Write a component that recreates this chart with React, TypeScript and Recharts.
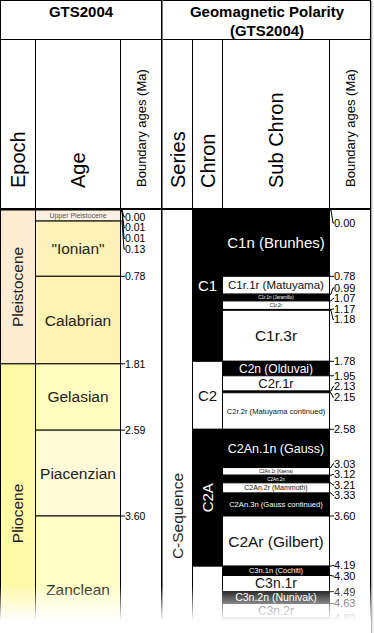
import React from "react";
import { ComposedChart, XAxis, YAxis, ReferenceArea, ReferenceLine, Scatter, Line } from "recharts";

const FONT = "'Liberation Sans', Arial, Helvetica, sans-serif";

// ---- GTS2004 stratigraphy, ages in Ma ----
const epochs = [
  { name: "Pleistocene", top: 0, base: 1.81 },
  { name: "Pliocene", top: 1.81, base: 5.33 },
];

const ages = [
  { name: "Upper Pleistocene", top: 0, base: 0.13 },
  { name: "\"Ionian\"", top: 0.13, base: 0.78 },
  { name: "Calabrian", top: 0.78, base: 1.81 },
  { name: "Gelasian", top: 1.81, base: 2.59 },
  { name: "Piacenzian", top: 2.59, base: 3.6 },
  { name: "Zanclean", top: 3.6, base: 5.33 },
];

const ageBoundaries = [0.0, 0.01, 0.01, 0.13, 0.78, 1.81, 2.59, 3.6];

const series = [{ name: "C-Sequence", top: 0, base: 7.2 }];

const chrons = [
  { name: "C1", top: 0, base: 1.78, polarity: "n" },
  { name: "C2", top: 1.78, base: 2.58, polarity: "r" },
  { name: "C2A", top: 2.58, base: 4.19, polarity: "n" },
  { name: "C3", top: 4.19, base: 6.03, polarity: "r" },
];

const subChrons = [
  { name: "C1n (Brunhes)", top: 0, base: 0.78, polarity: "n" },
  { name: "C1r.1r (Matuyama)", top: 0.78, base: 0.99, polarity: "r" },
  { name: "C1r.1n (Jaramillo)", top: 0.99, base: 1.07, polarity: "n" },
  { name: "C1r.2r", top: 1.07, base: 1.17, polarity: "r" },
  { name: "C1r.2n", top: 1.17, base: 1.18, polarity: "n" },
  { name: "C1r.3r", top: 1.18, base: 1.78, polarity: "r" },
  { name: "C2n (Olduvai)", top: 1.78, base: 1.95, polarity: "n" },
  { name: "C2r.1r", top: 1.95, base: 2.13, polarity: "r" },
  { name: "C2r.1n", top: 2.13, base: 2.15, polarity: "n" },
  { name: "C2r.2r (Matuyama continued)", top: 2.15, base: 2.58, polarity: "r" },
  { name: "C2An.1n (Gauss)", top: 2.58, base: 3.03, polarity: "n" },
  { name: "C2An.1r (Kaena)", top: 3.03, base: 3.12, polarity: "r" },
  { name: "C2An.2n", top: 3.12, base: 3.21, polarity: "n" },
  { name: "C2An.2r (Mammoth)", top: 3.21, base: 3.33, polarity: "r" },
  { name: "C2An.3n (Gauss continued)", top: 3.33, base: 3.6, polarity: "n" },
  { name: "C2Ar (Gilbert)", top: 3.6, base: 4.19, polarity: "r" },
  { name: "C3n.1n (Cochiti)", top: 4.19, base: 4.3, polarity: "n" },
  { name: "C3n.1r", top: 4.3, base: 4.49, polarity: "r" },
  { name: "C3n.2n (Nunivak)", top: 4.49, base: 4.63, polarity: "n" },
  { name: "C3n.2r", top: 4.63, base: 4.8, polarity: "r" },
  { name: "C3n.3n (Sidufjall)", top: 4.8, base: 4.9, polarity: "n" },
];

const polarityBoundaries = [
  0.0, 0.78, 0.99, 1.07, 1.17, 1.18, 1.78, 1.95, 2.13, 2.15, 2.58,
  3.03, 3.12, 3.21, 3.33, 3.6, 4.19, 4.3, 4.49, 4.63, 4.8,
];

// ---- styles / layout ----
const FILL: Record<string, string> = {
  Pleistocene: "#FDECD2",
  Pliocene: "#FFF9A8",
  "Upper Pleistocene": "#FCEFE3",
  "\"Ionian\"": "#FFF2B8",
  Calabrian: "#FFF2B3",
  Gelasian: "#FFFDC0",
  Piacenzian: "#FFFAD8",
  Zanclean: "#FFFEC6",
};

// label font sizes; 0 = no label drawn (cell too thin or below the fade)
const SUB_FONT: Record<string, number> = {
  "C1n (Brunhes)": 15,
  "C1r.1r (Matuyama)": 11.5,
  "C1r.1n (Jaramillo)": 4.5,
  "C1r.2r": 4.5,
  "C1r.3r": 15.5,
  "C2n (Olduvai)": 12,
  "C2r.1r": 13,
  "C2r.2r (Matuyama continued)": 7.6,
  "C2An.1n (Gauss)": 12.5,
  "C2An.1r (Kaena)": 4.5,
  "C2An.2n": 4.5,
  "C2An.2r (Mammoth)": 7,
  "C2An.3n (Gauss continued)": 7.6,
  "C2Ar (Gilbert)": 15.5,
  "C3n.1n (Cochiti)": 7.5,
  "C3n.1r": 14,
  "C3n.2n (Nunivak)": 10.5,
  "C3n.2r": 12,
};
const CHRON_FONT: Record<string, number> = { C1: 15, C2: 15, C2A: 15 };

const COL = {
  epoch: [0.5, 35.5],
  age: [35.5, 120.5],
  series: [162.5, 192.5],
  chron: [192.5, 222.5],
  sub: [222.5, 329.5],
};
const AGE_EDGE = 120.5;
const SUB_EDGE = 329.5;
const W = 374;
const BODY_H = 423;
const Y_MAX = BODY_H / 85;

function spreadLabels(values: number[], gap: number, min: number) {
  const groups: { vals: number[]; start: number }[] = [];
  for (const v of values) {
    groups.push({ vals: [v], start: Math.max(min, v) });
    while (groups.length > 1) {
      const b = groups[groups.length - 1];
      const a = groups[groups.length - 2];
      if (a.start + a.vals.length * gap <= b.start) break;
      const vals = a.vals.concat(b.vals);
      const mean = vals.reduce((s, x) => s + x, 0) / vals.length;
      groups.splice(groups.length - 2, 2, {
        vals,
        start: Math.max(min, mean - ((vals.length - 1) / 2) * gap),
      });
    }
  }
  return groups.flatMap((g) => g.vals.map((_, i) => g.start + i * gap));
}

function buildTicks(values: number[], edge: number, gap: number, min: number) {
  const pos = spreadLabels(values, gap, min);
  const labels = values.map((v, i) => ({ x: edge + 4.5, y: pos[i], label: v.toFixed(2) }));
  const leaders: { x: number; y: number | null }[] = [];
  values.forEach((v, i) => {
    leaders.push({ x: edge, y: v }, { x: edge + 1.5, y: v }, { x: edge + 3.5, y: pos[i] }, { x: edge + 4.5, y: pos[i] });
    leaders.push({ x: edge + 4.5, y: null });
  });
  return { labels, leaders };
}

const leftTicks = buildTicks(ageBoundaries, AGE_EDGE, 0.126, 0.082);
const rightTicks = buildTicks(polarityBoundaries, SUB_EDGE, 0.124, 0.153);

type CellOpts = { fill: string; color: string; size: number; rotate?: boolean; stroke?: string };

const cellShape = (name: string, o: CellOpts) => (p: any) => {
  const { x, y, width, height } = p;
  const cx = x + width / 2;
  const cy = y + height / 2;
  return (
    <g>
      <rect x={x} y={y} width={width} height={height} fill={o.fill} stroke={o.stroke ?? "#000"} strokeWidth={1} />
      {o.size > 0 && (
        <text
          x={cx}
          y={cy}
          dy="0.35em"
          textAnchor="middle"
          fontSize={o.size}
          fill={o.color}
          fontFamily={FONT}
          transform={o.rotate ? `rotate(-90 ${cx} ${cy})` : undefined}
        >
          {name}
        </text>
      )}
    </g>
  );
};

const tickLabel = (size: number) => (p: any) => (
  <text x={p.cx} y={p.cy} dy="0.35em" fontSize={size} fill="#000" fontFamily={FONT}>
    {p.payload.label}
  </text>
);

function Header() {
  const vText = (x: number, label: string, size: number, y = 188) => (
    <text x={x} y={y} dy="0.35em" fontSize={size} fontFamily={FONT} fill="#000" transform={`rotate(-90 ${x} ${y})`}>
      {label}
    </text>
  );
  return (
    <svg width={W} height={210} style={{ display: "block" }}>
      <rect x={0} y={0} width={W} height={210} fill="#fff" />
      <g stroke="#000" strokeWidth={1}>
        <line x1={0} y1={0.5} x2={371} y2={0.5} />
        <line x1={0} y1={39.5} x2={371} y2={39.5} />
        <line x1={0.5} y1={0} x2={0.5} y2={210} />
        <line x1={35.5} y1={39.5} x2={35.5} y2={210} />
        <line x1={120.5} y1={39.5} x2={120.5} y2={210} />
        <line x1={161.5} y1={0} x2={161.5} y2={210} />
        <line x1={192.5} y1={39.5} x2={192.5} y2={210} />
        <line x1={222.5} y1={39.5} x2={222.5} y2={210} />
        <line x1={329.5} y1={39.5} x2={329.5} y2={210} />
        <line x1={370.5} y1={0} x2={370.5} y2={210} />
      </g>
      <line x1={162.5} y1={0} x2={162.5} y2={210} stroke="#777" strokeWidth={1} />
      <line x1={0} y1={209} x2={371} y2={209} stroke="#000" strokeWidth={2} />
      <g fontFamily={FONT} fontWeight="bold" fontSize={15} textAnchor="middle" fill="#000">
        <text x={81} y={17}>GTS2004</text>
        <text x={267} y={17}>Geomagnetic Polarity</text>
        <text x={267} y={36}>(GTS2004)</text>
      </g>
      {vText(18, "Epoch", 20)}
      {vText(78, "Age", 20)}
      {vText(141.5, "Boundary ages (Ma)", 13, 187)}
      {vText(177.5, "Series", 20)}
      {vText(207.5, "Chron", 20)}
      {vText(276, "Sub Chron", 20)}
      {vText(350, "Boundary ages (Ma)", 13, 187)}
    </svg>
  );
}

export default function App() {
  return (
    <div style={{ position: "absolute", left: 0, top: 0, width: W, height: 633, background: "#fff", overflow: "hidden" }}>
      <Header />
      <ComposedChart width={W} height={BODY_H} margin={{ top: 0, right: 0, bottom: 0, left: 0 }} style={{ display: "block" }}>
        <XAxis type="number" dataKey="x" domain={[0, W]} allowDataOverflow hide />
        <YAxis type="number" dataKey="y" domain={[0, Y_MAX]} allowDataOverflow reversed hide />

        {epochs.map((e) => (
          <ReferenceArea
            key={e.name}
            x1={COL.epoch[0]}
            x2={COL.epoch[1]}
            y1={e.top}
            y2={e.base}
            ifOverflow="visible"
            shape={cellShape(e.name, { fill: FILL[e.name], color: "#222", size: 15.5, rotate: true })}
          />
        ))}
        {ages.map((a) => (
          <ReferenceArea
            key={a.name}
            x1={COL.age[0]}
            x2={COL.age[1]}
            y1={a.top}
            y2={a.base}
            ifOverflow="visible"
            shape={cellShape(a.name, {
              fill: FILL[a.name],
              color: a.name === "Upper Pleistocene" ? "#555" : "#222",
              size: a.name === "Upper Pleistocene" ? 7 : 15.5,
            })}
          />
        ))}
        {series.map((s) => (
          <ReferenceArea
            key={s.name}
            x1={COL.series[0]}
            x2={COL.series[1]}
            y1={s.top}
            y2={s.base}
            ifOverflow="visible"
            shape={cellShape(s.name, { fill: "#fff", color: "#222", size: 15.5, rotate: true, stroke: "none" })}
          />
        ))}
        {chrons.map((c) => (
          <ReferenceArea
            key={c.name}
            x1={COL.chron[0]}
            x2={COL.chron[1]}
            y1={c.top}
            y2={c.base}
            ifOverflow="visible"
            shape={cellShape(c.name, {
              fill: c.polarity === "n" ? "#000" : "#fff",
              color: c.polarity === "n" ? "#fff" : "#111",
              size: CHRON_FONT[c.name] ?? 0,
              rotate: c.name === "C2A",
            })}
          />
        ))}
        {subChrons.map((c) => (
          <ReferenceArea
            key={c.name}
            x1={COL.sub[0]}
            x2={COL.sub[1]}
            y1={c.top}
            y2={c.base}
            ifOverflow="visible"
            shape={cellShape(c.name, {
              fill: c.polarity === "n" ? "#000" : "#fff",
              color: c.polarity === "n" ? "#fff" : "#111",
              size: SUB_FONT[c.name] ?? 0,
            })}
          />
        ))}

        <Line
          data={leftTicks.leaders}
          dataKey="y"
          type="linear"
          stroke="#000"
          strokeWidth={1}
          dot={false}
          activeDot={false}
          connectNulls={false}
          isAnimationActive={false}
        />
        <Line
          data={rightTicks.leaders}
          dataKey="y"
          type="linear"
          stroke="#000"
          strokeWidth={1}
          dot={false}
          activeDot={false}
          connectNulls={false}
          isAnimationActive={false}
        />
        <Scatter data={leftTicks.labels} dataKey="y" shape={tickLabel(10.5)} isAnimationActive={false} />
        <Scatter data={rightTicks.labels} dataKey="y" shape={tickLabel(11)} isAnimationActive={false} />

        <ReferenceLine x={0.5} stroke="#000" strokeWidth={1} />
        <ReferenceLine x={161.5} stroke="#000" strokeWidth={1} />
        <ReferenceLine x={162.5} stroke="#777" strokeWidth={1} />
        <ReferenceLine x={370.5} stroke="#000" strokeWidth={1} />
      </ComposedChart>
      <div
        style={{
          position: "absolute",
          left: 0,
          top: 585,
          width: W,
          height: 48,
          background: "linear-gradient(rgba(255,255,255,0), #fff 74%)",
          pointerEvents: "none",
        }}
      />
      <div
        style={{
          position: "absolute",
          left: 371,
          top: 1,
          width: 3,
          height: 632,
          background: "linear-gradient(to right, #9a9a9a, #e4e4e4, #fff)",
          pointerEvents: "none",
        }}
      />
    </div>
  );
}
